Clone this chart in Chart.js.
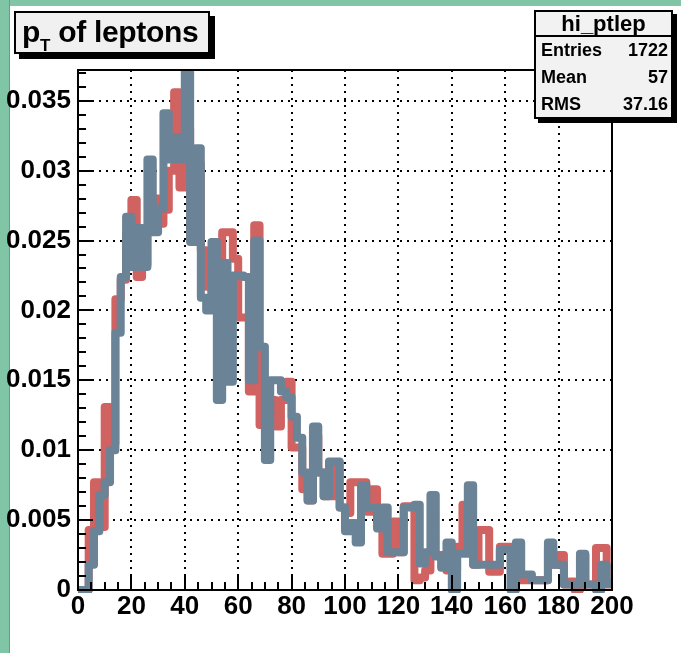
<!DOCTYPE html>
<html>
<head>
<meta charset="utf-8">
<script src="https://cdn.jsdelivr.net/npm/chart.js@4.4.1/dist/chart.umd.min.js"></script>
<style>
  body { margin: 0; }
  #wrap { position: relative; width: 681px; height: 653px; background: #fff; overflow: hidden;
          font-family: 'Liberation Sans', Arial, sans-serif; font-weight: bold; }
  #stripTop { position: absolute; left: 0; top: 0; width: 681px; height: 6px; background: #80c5a6; }
  #stripLeft { position: absolute; left: 0; top: 0; width: 9px; height: 653px; background: #80c5a6; border-right: 1px solid #8a8a8a; }
  #c { position: absolute; left: 0; top: 0; }
  #title { position: absolute; left: 14px; top: 11px; width: 186px; height: 39px; background: #f0f0f0;
           border: 2px solid #000; box-shadow: 5px 5px 0 #000; font-size: 30px; line-height: 37px;
           padding-left: 6px; box-sizing: content-box; white-space: nowrap; letter-spacing: -0.3px; }
  #title sub { font-size: 17px; vertical-align: -9px; line-height: 0; }
  #stats { position: absolute; left: 534px; top: 10px; width: 135px; height: 105px; background: #f2f2f2;
           border: 2px solid #000; box-shadow: 4px 4px 0 #000; }
  #stats .hd { height: 23px; border-bottom: 2px solid #000; text-align: center; font-size: 22px; line-height: 23px; }
  #stats .row { display: flex; justify-content: space-between; padding: 0 3px 0 5px; height: 27px; line-height: 27px; font-size: 18px; }
</style>
</head>
<body>
<div id="wrap">
  <div id="stripTop"></div>
  <div id="stripLeft"></div>
  <canvas id="c" width="681" height="653"></canvas>
  <div id="title">p<sub>T</sub> of leptons</div>
  <div id="stats"></div>
</div>
<script>
// histogram: 100 bins from 0 to 200
const xMin = 0;
const xMax = 200;
const binWidth = 2;

const redValues = [
  0, 0, 0.0043, 0.0077, 0.0045, 0.0131, 0.0105, 0.0208, 0.0222, 0.0255,
  0.0279, 0.0224, 0.0233, 0.0258, 0.0280, 0.0262, 0.0272, 0.0300, 0.0356, 0.0288,
  0.0330, 0.0250, 0.0305, 0.0243, 0.0217, 0.0205, 0.0225, 0.0256, 0.0256, 0.0237,
  0.0195, 0.0195, 0.0142, 0.0261, 0.0118, 0.0118, 0.0136, 0.0117, 0.0136, 0.0149,
  0.0102, 0.0102, 0.0072, 0.0064, 0.0110, 0.0084, 0.0067, 0.0067, 0.0091, 0.0059,
  0.0055, 0.0077, 0.0077, 0.0077, 0.0056, 0.0072, 0.0049, 0.0026, 0.0026, 0.0049,
  0.0027, 0.0060, 0.0060, 0.0007, 0.0009, 0.0014, 0.0025, 0.0025, 0.0025, 0.0014,
  0.0014, 0.0031, 0.0061, 0.0035, 0.0018, 0.0043, 0.0043, 0.0013, 0.0013, 0.0031,
  0.0031, 0.0030, 0.0007, 0.0007, 0.0007, 0.0007, 0.0007, 0.0007, 0.0030, 0.0018,
  0.0025, 0.0004, 0.0006, 0, 0.0025, 0.0004, 0.0004, 0.0030, 0.0030, 0.0004
];

const blueValues = [
  0, 0, 0.0018, 0.0042, 0.0068, 0.0077, 0.0100, 0.0184, 0.0224, 0.0267,
  0.0231, 0.0259, 0.0231, 0.0308, 0.0256, 0.0273, 0.0341, 0.0308, 0.0324, 0.0308,
  0.0400, 0.0249, 0.0316, 0.0209, 0.0200, 0.0249, 0.0136, 0.0234, 0.0149, 0.0225,
  0.0225, 0.0224, 0.0150, 0.0250, 0.0174, 0.0093, 0.0150, 0.0150, 0.0142, 0.0138,
  0.0124, 0.0109, 0.0084, 0.0064, 0.0117, 0.0084, 0.0067, 0.0092, 0.0092, 0.0059,
  0.0042, 0.0048, 0.0034, 0.0075, 0.0059, 0.0059, 0.0044, 0.0059, 0.0027, 0.0027,
  0.0027, 0.0059, 0.0059, 0.0061, 0.0019, 0.0027, 0.0068, 0.0024, 0.0016, 0.0034,
  0, 0.0026, 0.0026, 0.0075, 0.0018, 0.0018, 0.0018, 0.0018, 0.0018, 0.0029,
  0.0029, 0, 0.0034, 0.0011, 0.0011, 0.0007, 0.0007, 0.0007, 0.0034, 0.0018,
  0.0018, 0.0004, 0.0004, 0.0004, 0.0026, 0.0004, 0.0004, 0, 0.0018, 0.0005
];

const xTicks = [0, 20, 40, 60, 80, 100, 120, 140, 160, 180, 200];
const yTicks = [0, 0.005, 0.01, 0.015, 0.02, 0.025, 0.03, 0.035];
const yTickLabels = ['0', '0.005', '0.01', '0.015', '0.02', '0.025', '0.03', '0.035'];
const yMax = 0.0372;
const xMinorStep = 5;
const yMinorStep = 0.001;

const histName = 'hi_ptlep';
const statsRows = [['Entries', '1722'], ['Mean', '57'], ['RMS', '37.16']];

// stats box text
var stats = document.getElementById('stats');
var hd = document.createElement('div');
hd.className = 'hd';
hd.textContent = histName;
stats.appendChild(hd);
statsRows.forEach(function (r) {
  var d = document.createElement('div');
  d.className = 'row';
  d.innerHTML = '<span>' + r[0] + '</span><span>' + r[1] + '</span>';
  stats.appendChild(d);
});

// bin left edges + closing point at the right edge
function toSteps(vals) {
  var pts = vals.map(function (v, i) { return { x: xMin + i * binWidth, y: v }; });
  pts.push({ x: xMax, y: vals[vals.length - 1] });
  return pts;
}

const frameTicks = {
  id: 'frameTicks',
  afterDraw(chart) {
    const { ctx, chartArea: a, scales: { x, y } } = chart;
    ctx.save();
    ctx.strokeStyle = '#000';
    ctx.lineWidth = 2;
    ctx.strokeRect(a.left, a.top, a.right - a.left, a.bottom - a.top);
    ctx.beginPath();
    for (let k = 0; xMin + k * xMinorStep <= xMax; k++) {
      const px = Math.round(x.getPixelForValue(xMin + k * xMinorStep));
      const len = (k % 4 === 0) ? 15 : 8;
      ctx.moveTo(px, a.bottom);
      ctx.lineTo(px, a.bottom - len);
    }
    for (let k = 0; k * yMinorStep <= yMax; k++) {
      const py = Math.round(y.getPixelForValue(k * yMinorStep));
      const len = (k % 5 === 0) ? 15 : 8;
      ctx.moveTo(a.left, py);
      ctx.lineTo(a.left + len, py);
    }
    ctx.stroke();
    ctx.restore();
  }
};

const tickFont = { family: "'Liberation Sans', Arial, sans-serif", size: 26, weight: 'bold' };

// first dataset is painted last in Chart.js, so blue goes first to sit on top
new Chart(document.getElementById('c'), {
  type: 'line',
  data: {
    datasets: [
      {
        data: toSteps(blueValues),
        borderColor: '#6a8397',
        borderWidth: 8,
        stepped: true,
        pointRadius: 0,
        borderJoinStyle: 'round',
        borderCapStyle: 'round',
        clip: { left: 0, top: 0, right: 0, bottom: 3 }
      },
      {
        data: toSteps(redValues),
        borderColor: '#d06262',
        borderWidth: 8,
        stepped: true,
        pointRadius: 0,
        borderJoinStyle: 'round',
        borderCapStyle: 'round',
        clip: { left: 0, top: 0, right: 0, bottom: 3 }
      }
    ]
  },
  options: {
    responsive: false,
    animation: false,
    layout: { padding: { left: 0, top: 70, right: 69, bottom: 0 } },
    plugins: { legend: { display: false }, tooltip: { enabled: false } },
    scales: {
      x: {
        type: 'linear',
        min: xMin,
        max: xMax,
        afterBuildTicks: function (s) { s.ticks = xTicks.map(function (v) { return { value: v }; }); },
        afterFit: function (s) { s.height = 63; },
        grid: { color: '#000', lineWidth: 2, drawTicks: false },
        border: { display: false, dash: [2, 5] },
        ticks: { color: '#000', font: tickFont, padding: 1, maxRotation: 0 }
      },
      y: {
        min: 0,
        max: yMax,
        afterBuildTicks: function (s) { s.ticks = yTicks.map(function (v) { return { value: v }; }); },
        afterFit: function (s) { s.width = 78; },
        grid: { color: '#000', lineWidth: 2, drawTicks: false },
        border: { display: false, dash: [2, 5] },
        ticks: {
          color: '#000',
          font: tickFont,
          padding: 7,
          callback: function (v, i) { return yTickLabels[i]; }
        }
      }
    }
  },
  plugins: [frameTicks]
});
</script>
</body>
</html>
